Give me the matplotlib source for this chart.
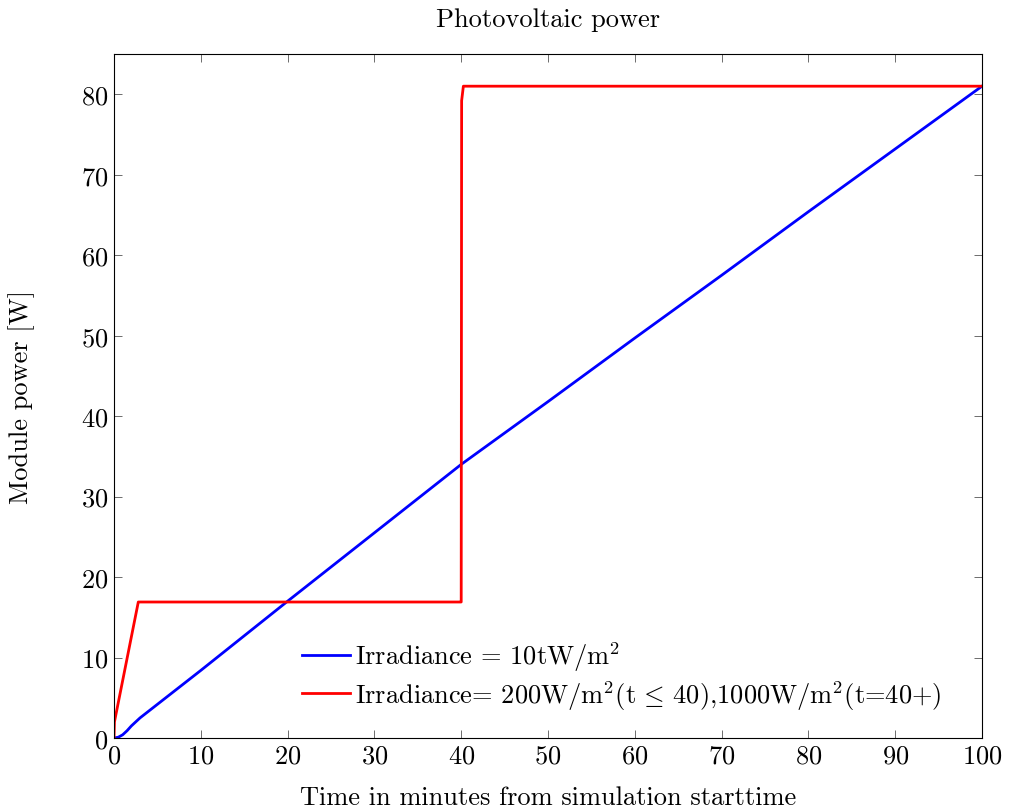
import matplotlib
matplotlib.use("Agg")
import matplotlib.pyplot as plt

plt.rcParams['font.family'] = 'serif'
plt.rcParams['font.serif'] = ['cmr10']
plt.rcParams['mathtext.fontset'] = 'cm'
plt.rcParams['axes.formatter.use_mathtext'] = True

# Data
blue_t = [0, 0.5, 1.0, 1.5, 2.0, 2.7, 3.0, 10, 20, 30, 40, 50, 60, 70, 80, 90, 100]
blue_p = [0, 0.1, 0.4, 0.9, 1.5, 2.2, 2.5, 8.4, 17.0, 25.5, 34.0, 41.8, 49.7, 57.5, 65.4, 73.2, 81.0]

red_t = [0, 0.05, 2.8, 39.95, 40.0, 40.05, 40.25, 100]
red_p = [0, 2.0, 16.9, 16.9, 16.9, 79.2, 81.0, 81.0]

blue_label = r'Irradiance = 10tW/m$^2$'
red_label = r'Irradiance= 200W/m$^2$(t$\,\leq\,$40),1000W/m$^2$(t=40+)'

xticks = [0, 10, 20, 30, 40, 50, 60, 70, 80, 90, 100]
yticks = [0, 10, 20, 30, 40, 50, 60, 70, 80]

fs = 19

fig = plt.figure(figsize=(10.12, 8.12), dpi=100)
ax = fig.add_axes([114/1012, 1-739/812, (982-114)/1012, (739-55)/812])

ax.plot(blue_t, blue_p, color=(0, 0, 1), lw=2.0, label=blue_label)
ax.plot(red_t, red_p, color=(1, 0, 0), lw=2.0, label=red_label)

ax.set_xlim(0, 100)
ax.set_ylim(0, 85)
ax.set_xticks(xticks)
ax.set_yticks(yticks)
ax.tick_params(direction='in', top=True, right=True, length=6, width=0.6,
               color='#555555', labelsize=fs, pad=4)
for s in ax.spines.values():
    s.set_linewidth(0.8)

ax.set_title('Photovoltaic power', fontsize=fs, pad=20)
ax.set_xlabel('Time in minutes from simulation starttime', fontsize=fs, labelpad=13)
ax.set_ylabel('Module power [W]', fontsize=fs, labelpad=33)

ax.legend(loc='lower left', bbox_to_anchor=(0.2166, 0.0387), frameon=False,
          fontsize=fs, handlelength=1.82, handletextpad=0.19, labelspacing=0.17,
          borderaxespad=0.0, borderpad=0.0)

fig.savefig('out.png', dpi=100)
